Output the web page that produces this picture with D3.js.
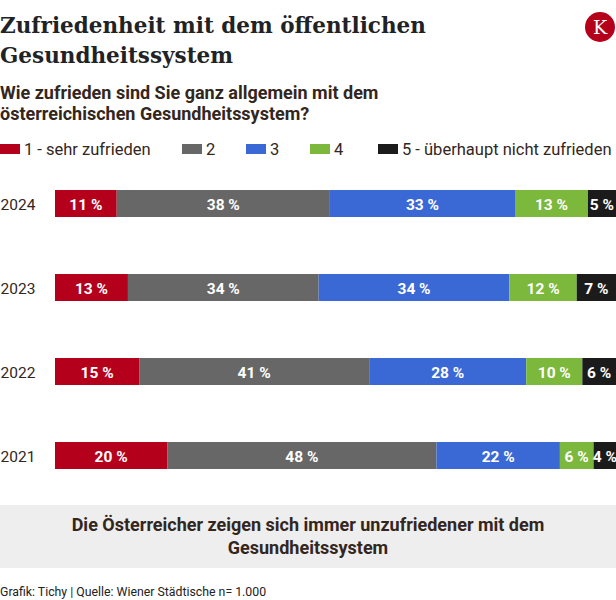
<!DOCTYPE html>
<html><head><meta charset="utf-8">
<script src="https://cdn.jsdelivr.net/npm/d3@7"></script>
<style>
body{margin:0;background:#fff;}
svg{display:block;}
.c{font-family:"Roboto",sans-serif;}
</style></head><body>
<svg id="chart" width="616" height="600"></svg>
<script>
const years = ["2024","2023","2022","2021"];
const categories = ["1 - sehr zufrieden","2","3","4","5 - überhaupt nicht zufrieden"];
const colors = ["#b5001b","#676767","#3a69d6","#7bb83b","#1b1b1b"];
const v1 = [11,13,15,20];
const v2 = [38,34,41,48];
const v3 = [33,34,28,22];
const v4 = [13,12,10,6];
const v5 = [5,7,6,4];
const series = [v1,v2,v3,v4,v5];

const svg = d3.select("#chart");
const textCol = "#33261d";

// title
svg.append("text").attr("x",0).attr("y",33).attr("font-family","DejaVu Serif").attr("font-weight","bold")
  .attr("font-size",21.5).attr("fill","#1f2326").text("Zufriedenheit mit dem öffentlichen");
svg.append("text").attr("x",0).attr("y",63).attr("font-family","DejaVu Serif").attr("font-weight","bold")
  .attr("font-size",21.5).attr("fill","#1f2326").text("Gesundheitssystem");
// logo
svg.append("circle").attr("cx",600).attr("cy",27).attr("r",15).attr("fill","#b5001b");
svg.append("text").attr("x",600).attr("y",34).attr("text-anchor","middle").attr("font-family","DejaVu Serif")
  .attr("font-size",19).attr("fill","#fff").text("K");
// subtitle
svg.append("text").attr("class","c").attr("x",0).attr("y",99).attr("font-weight","bold").attr("font-size",18)
  .attr("fill",textCol).text("Wie zufrieden sind Sie ganz allgemein mit dem");
svg.append("text").attr("class","c").attr("x",0).attr("y",120).attr("font-weight","bold").attr("font-size",18)
  .attr("fill",textCol).text("österreichischen Gesundheitssystem?");

// legend
const legX = [0,182,246,310,378];
const leg = svg.append("g");
categories.forEach((c,i)=>{
  leg.append("rect").attr("x",legX[i]).attr("y",144).attr("width",20).attr("height",10).attr("fill",colors[i]);
  leg.append("text").attr("class","c").attr("x",legX[i]+24).attr("y",155).attr("font-size",16.5)
    .attr("fill",textCol).text(c);
});

// bars
const x = d3.scaleLinear().domain([0,100]).range([55,616]);
const y = d3.scaleBand().domain(years).range([148,511]).paddingInner(1-27/84).paddingOuter(0.5);
const stackData = years.map((yr,j)=>{
  const o={year:yr}; categories.forEach((c,i)=>o[c]=series[i][j]); return o;});
const stack = d3.stack().keys(categories)(stackData);

const g = svg.append("g");
stack.forEach((layer,i)=>{
  layer.forEach(d=>{
    const yr=d.data.year;
    g.append("rect").attr("x",x(d[0])).attr("y",y(yr)).attr("width",x(d[1])-x(d[0])).attr("height",y.bandwidth())
      .attr("fill",colors[i]);
    g.append("text").attr("class","c").attr("x",(x(d[0])+x(d[1]))/2).attr("y",y(yr)+y.bandwidth()/2+6)
      .attr("text-anchor","middle").attr("font-size",15.5).attr("font-weight","bold").attr("fill","#fff")
      .text((d[1]-d[0])+" %");
  });
});
years.forEach(yr=>{
  g.append("text").attr("class","c").attr("x",18).attr("y",y(yr)+y.bandwidth()/2+6.5).attr("text-anchor","middle")
   .attr("font-size",15.5).attr("fill",textCol).text(yr);
});

// note box
svg.append("rect").attr("x",0).attr("y",505).attr("width",616).attr("height",63).attr("fill","#eeeeee");
svg.append("text").attr("class","c").attr("x",308).attr("y",531).attr("text-anchor","middle").attr("font-weight","bold")
  .attr("font-size",18).attr("fill",textCol).text("Die Österreicher zeigen sich immer unzufriedener mit dem");
svg.append("text").attr("class","c").attr("x",308).attr("y",554).attr("text-anchor","middle").attr("font-weight","bold")
  .attr("font-size",18).attr("fill",textCol).text("Gesundheitssystem");
// footer
svg.append("text").attr("class","c").attr("x",0).attr("y",596).attr("font-size",12.3)
  .attr("fill","#222").text("Grafik: Tichy | Quelle: Wiener Städtische n= 1.000");
</script></body></html>
